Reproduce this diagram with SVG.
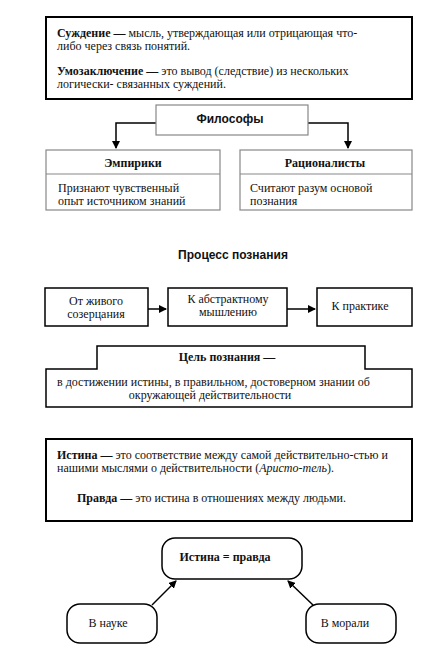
<svg xmlns="http://www.w3.org/2000/svg" width="445" height="653" viewBox="0 0 445 653">
<defs>
<style>
text{font-family:'Liberation Serif','DejaVu Serif',serif;font-size:12px;fill:#111}
.b{font-weight:bold}
text.a{font-family:'Liberation Sans','DejaVu Sans',sans-serif;font-size:12px;font-weight:bold}
.k{fill:#fff;stroke:#000;stroke-width:1.5}
.k2{fill:#fff;stroke:#000;stroke-width:2}
.g{fill:#fff;stroke:#888;stroke-width:1.2}
.c{fill:none;stroke:#000;stroke-width:1.5}
</style>
<marker id="ah" markerWidth="8" markerHeight="8" refX="7" refY="4" orient="auto" markerUnits="userSpaceOnUse">
<path d="M0,0 L8,4 L0,8 Z" fill="#000"/>
</marker>
</defs>
<rect width="445" height="653" fill="#fff"/>
<g id="definitions">
<rect class="k2" x="46" y="17" width="366" height="82"/>
<text x="57" y="37"><tspan class="b">Суждение —</tspan> мысль, утверждающая или отрицающая что-</text>
<text x="57" y="50">либо через связь понятий.</text>
<text x="57" y="75"><tspan class="b">Умозаключение —</tspan> это вывод (следствие) из нескольких</text>
<text x="57" y="88">логически- связанных суждений.</text>
</g>
<g id="connectors">
<polyline class="c" points="156,123 116,123 116,148" marker-end="url(#ah)"/>
<polyline class="c" points="308,123 348,123 348,148" marker-end="url(#ah)"/>
<line class="c" x1="148" y1="309" x2="166" y2="309" marker-end="url(#ah)"/>
<line class="c" x1="287" y1="309" x2="315" y2="309" marker-end="url(#ah)"/>
<line class="c" x1="152" y1="605" x2="176" y2="581" marker-end="url(#ah)"/>
<line class="c" x1="313" y1="605" x2="288" y2="581" marker-end="url(#ah)"/>
</g>
<g id="philosophers">
<rect class="g" x="156" y="105" width="152" height="30"/>
<text class="a" x="230" y="123" text-anchor="middle">Философы</text>
</g>
<g id="empirics">
<rect class="g" x="46" y="150" width="174" height="60"/>
<line x1="46" y1="174" x2="220" y2="174" stroke="#888" stroke-width="1.2"/>
<text class="b" x="133" y="167" text-anchor="middle">Эмпирики</text>
<text x="58" y="192">Признают чувственный</text>
<text x="58" y="205">опыт источником знаний</text>
</g>
<g id="rationalists">
<rect class="g" x="240" y="150" width="172" height="60"/>
<line x1="240" y1="174" x2="412" y2="174" stroke="#888" stroke-width="1.2"/>
<text class="b" x="325" y="167" text-anchor="middle">Рационалисты</text>
<text x="250" y="192">Считают разум основой</text>
<text x="250" y="205">познания</text>
</g>
<g id="process-title">
<text class="a" x="233" y="259" text-anchor="middle">Процесс познания</text>
</g>
<g id="live">
<rect class="k" x="45" y="288" width="103" height="38"/>
<text x="96" y="305" text-anchor="middle">От живого</text>
<text x="96" y="318" text-anchor="middle">созерцания</text>
</g>
<g id="abstract">
<rect class="k" x="168" y="288" width="119" height="38"/>
<text x="228" y="303" text-anchor="middle">К абстрактному</text>
<text x="228" y="316" text-anchor="middle">мышлению</text>
</g>
<g id="practice">
<rect class="k" x="317" y="288" width="95" height="38"/>
<text x="360" y="310" text-anchor="middle">К практике</text>
</g>
<g id="goal">
<path class="k" d="M97,369 L97,346 L365,346 L365,369 L412,369 L412,407 L46,407 L46,369 Z"/>
<text class="b" x="227" y="361" text-anchor="middle">Цель познания —</text>
<text x="57" y="386">в  достижении истины, в правильном, достоверном знании об</text>
<text x="210" y="399" text-anchor="middle">окружающей действительности</text>
</g>
<g id="truth">
<rect class="k2" x="46" y="439" width="366" height="82"/>
<text x="57" y="459"><tspan class="b">Истина —</tspan> это соответствие между самой действительно-стью и</text>
<text x="57" y="472">нашими мыслями о действительности  (<tspan font-style="italic">Аристо-тель</tspan>).</text>
<text x="77" y="502"><tspan class="b">Правда —</tspan> это истина в отношениях между людьми.</text>
</g>
<g id="truth-equals">
<rect class="k" x="162" y="538" width="140" height="41" rx="13"/>
<text class="b" x="225" y="561" text-anchor="middle">Истина = правда</text>
</g>
<g id="science">
<rect class="k" x="67" y="604" width="90" height="39" rx="13"/>
<text x="108" y="627" text-anchor="middle">В науке</text>
</g>
<g id="morals">
<rect class="k" x="306" y="604" width="90" height="39" rx="13"/>
<text x="345" y="627" text-anchor="middle">В морали</text>
</g>
</svg>
